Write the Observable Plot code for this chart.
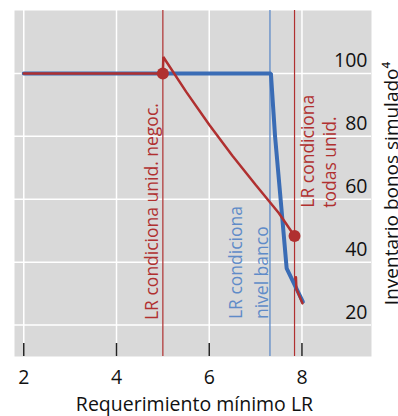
<!DOCTYPE html>
<html>
<head>
<meta charset="utf-8">
<script src="https://cdn.jsdelivr.net/npm/d3@7"></script>
<script src="https://cdn.jsdelivr.net/npm/@observablehq/plot@0.6"></script>
<style>
  html, body { margin: 0; padding: 0; background: white; }
  #chart svg { display: block; font-family: "Open Sans", sans-serif; }
</style>
</head>
<body>
<div id="chart"></div>
<script>
// Tick values
const xTicks = [2, 4, 6, 8];
const yTicks = [20, 40, 60, 80, 100];

// Blue series: bank-level simulated inventory
const blueX = [2, 7.33, 7.42, 7.58, 7.67, 8.02];
const blueY = [100, 100, 80, 53.3, 38, 27.4];

// Red series: trading-unit level (with a break after the dot)
const redX = [2, 5, 5.01, 5.5, 6.0, 6.5, 7.0, 7.5, 7.84, 7.85, 7.87, 7.88, 8.01];
const redY = [100, 100, 105.2, 94.2, 83.7, 73.8, 64.6, 55.6, 48.3, null, 35.2, 31.5, 26.9];

// Highlighted points
const dotX = [5, 7.84];
const dotY = [100, 48.3];

// Reference rules and their labels
const ruleRed1 = 5;
const ruleBlue = 7.31;
const ruleRed2 = 7.84;
const labelRed1 = "LR condiciona unid. negoc.";
const labelBlue = "LR condiciona\nnivel banco";
const labelRed2 = "LR condiciona\ntodas unid.";
const xTitle = "Requerimiento mínimo LR";
const yTitle = "Inventario bonos simulado⁴";

const RED = "#b03030";
const BLUE = "#3a6cb5";
const BLUE_RULE = "#5f8bc8";

const blue = blueX.map((x, i) => ({x, y: blueY[i]}));
const red = redX.map((x, i) => ({x, y: redY[i]}));
const dots = dotX.map((x, i) => ({x, y: dotY[i]}));

const chart = Plot.plot({
  width: 398,
  height: 416,
  marginLeft: 14,
  marginRight: 27,
  marginTop: 10,
  marginBottom: 60,
  x: {domain: [1.8, 9.5], axis: null},
  y: {domain: [10, 120], axis: null},
  marks: [
    Plot.frame({fill: "#d9d9d9", stroke: "none"}),
    Plot.gridX(xTicks, {stroke: "white", strokeOpacity: 1, strokeWidth: 1.5}),
    Plot.gridY(yTicks, {stroke: "white", strokeOpacity: 1, strokeWidth: 1.5}),
    Plot.tickX(xTicks, {x: d => d, insetTop: 333, stroke: "#222", strokeWidth: 1.5}),
    Plot.ruleX([ruleRed1], {x: d => d, stroke: RED, strokeWidth: 1.2}),
    Plot.ruleX([ruleBlue], {x: d => d, stroke: BLUE_RULE, strokeWidth: 1.3}),
    Plot.ruleX([ruleRed2], {x: d => d, stroke: RED, strokeWidth: 1.2}),
    Plot.line(blue, {x: "x", y: "y", stroke: BLUE, strokeWidth: 4, strokeLinejoin: "miter"}),
    Plot.line(red, {x: "x", y: "y", stroke: RED, strokeWidth: 2.5, strokeLinejoin: "miter"}),
    Plot.dot(dots, {x: "x", y: "y", r: 6, fill: RED, stroke: "none"}),
    Plot.text([labelRed1], {x: () => ruleRed1, y: () => 21.6, text: d => d, rotate: -90,
      textAnchor: "start", lineAnchor: "bottom", dx: -5, fill: RED, fontSize: 17.5}),
    Plot.text([labelBlue], {x: () => ruleBlue, y: () => 21.9, text: d => d, rotate: -90,
      textAnchor: "start", lineAnchor: "bottom", dx: -1.5, fill: BLUE_RULE, fontSize: 17.5, lineHeight: 1.5}),
    Plot.text([labelRed2], {x: () => ruleRed2, y: () => 57.3, text: d => d, rotate: -90,
      textAnchor: "start", lineAnchor: "top", dx: 3, fill: RED, fontSize: 17.5, lineHeight: 1.3}),
    Plot.text(yTicks, {y: d => d, text: d => String(d), frameAnchor: "right", dx: -4, dy: -6,
      textAnchor: "end", lineAnchor: "bottom", fill: "#111", fontSize: 19.5}),
    Plot.text(xTicks, {x: d => d, text: d => String(d), frameAnchor: "bottom", dy: 14,
      lineAnchor: "top", fill: "#111", fontSize: 19.5}),
    Plot.text([xTitle], {frameAnchor: "bottom", dy: 54.5, dx: 1.5, lineAnchor: "bottom",
      fill: "#111", fontSize: 19.5}),
    Plot.text([yTitle], {frameAnchor: "right", dx: 26, rotate: -90, lineAnchor: "bottom",
      textAnchor: "middle", fill: "#111", fontSize: 19})
  ]
});
document.getElementById("chart").appendChild(chart);
</script>
</body>
</html>
